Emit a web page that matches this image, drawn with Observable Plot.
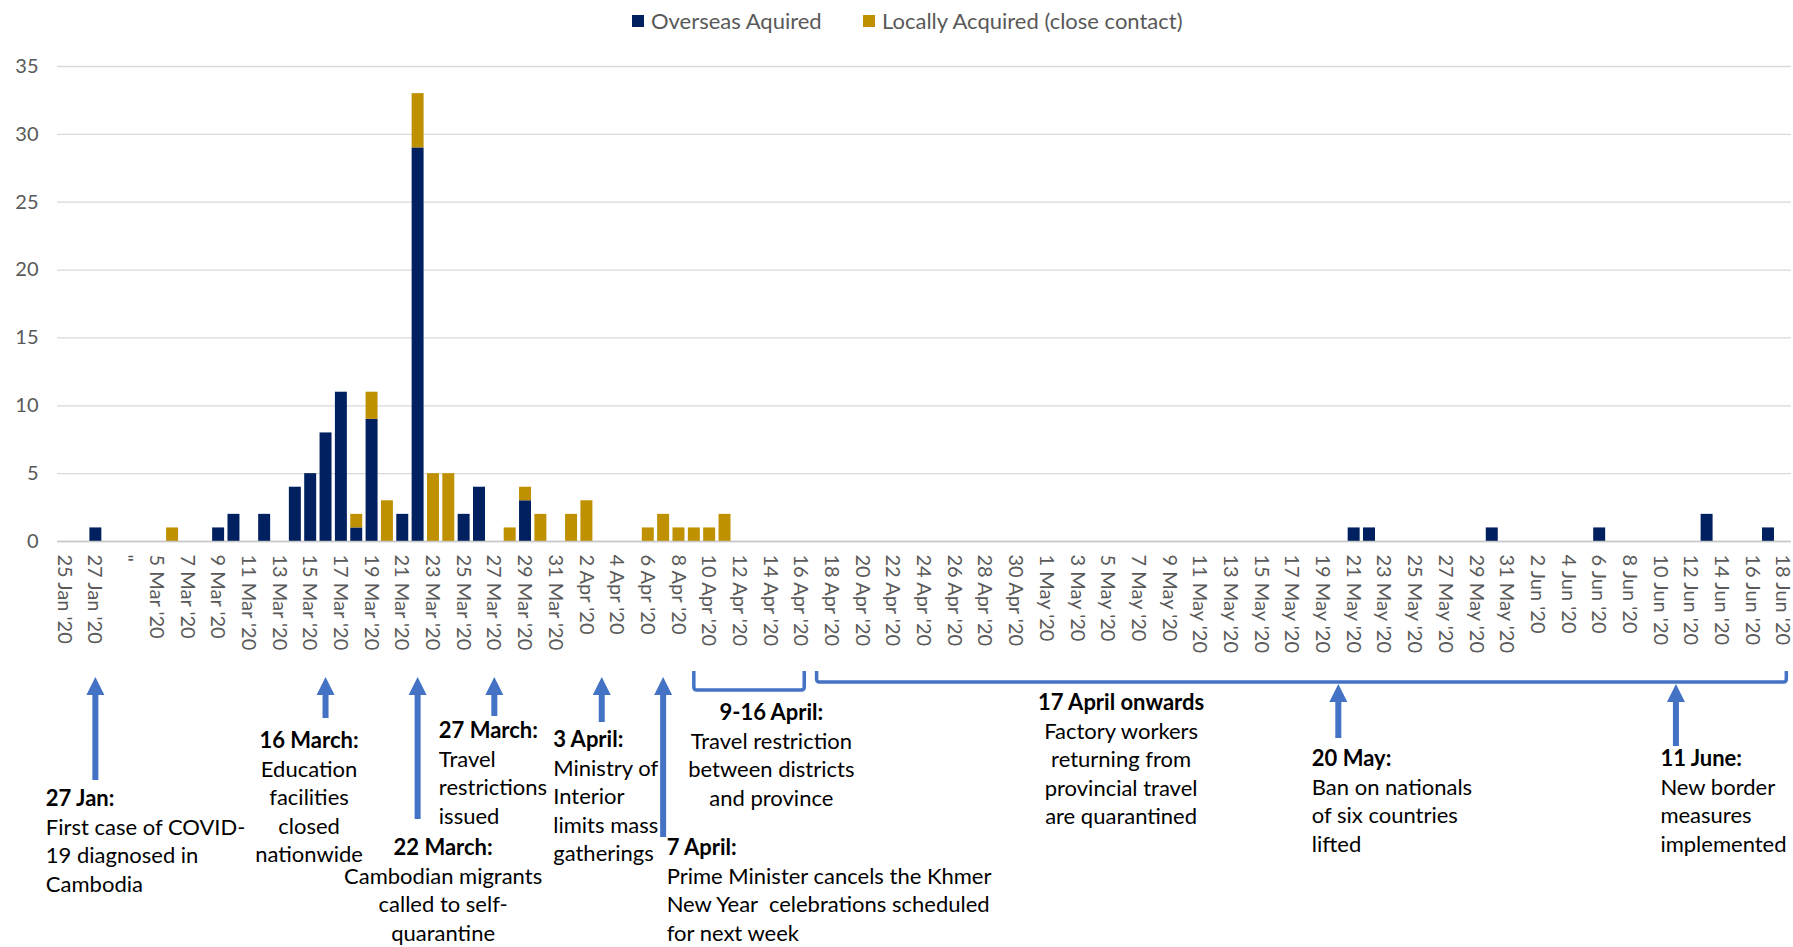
<!DOCTYPE html>
<html>
<head>
<meta charset="utf-8">
<script src="https://cdn.jsdelivr.net/npm/d3@7"></script>
<script src="https://cdn.jsdelivr.net/npm/@observablehq/plot@0.6"></script>
<style>
  body { margin: 0; background: #fff; font-family: Lato, "Open Sans", sans-serif; }
  #legend { position: relative; height: 42px; width: 1793px; color: #595959; font-size: 22px; }
  .item { position: absolute; top: 7px; display: flex; align-items: center; white-space: nowrap; }
  .sw { width: 12px; height: 12px; margin-right: 7px; display: inline-block; }
  #chart svg { display: block; overflow: visible; }
</style>
</head>
<body>
<div id="legend"></div>
<div id="chart"></div>
<script>
// ---- categories (one per bar slot) ----
const categories = [
  "25 Jan '20","26 Jan '20","27 Jan '20","28 Jan '20","\"","4 Mar '20",
  "5 Mar '20","6 Mar '20","7 Mar '20","8 Mar '20","9 Mar '20","10 Mar '20","11 Mar '20","12 Mar '20",
  "13 Mar '20","14 Mar '20","15 Mar '20","16 Mar '20","17 Mar '20","18 Mar '20","19 Mar '20","20 Mar '20",
  "21 Mar '20","22 Mar '20","23 Mar '20","24 Mar '20","25 Mar '20","26 Mar '20","27 Mar '20","28 Mar '20",
  "29 Mar '20","30 Mar '20","31 Mar '20",
  "1 Apr '20","2 Apr '20","3 Apr '20","4 Apr '20","5 Apr '20","6 Apr '20","7 Apr '20","8 Apr '20",
  "9 Apr '20","10 Apr '20","11 Apr '20","12 Apr '20","13 Apr '20","14 Apr '20","15 Apr '20","16 Apr '20",
  "17 Apr '20","18 Apr '20","19 Apr '20","20 Apr '20","21 Apr '20","22 Apr '20","23 Apr '20","24 Apr '20",
  "25 Apr '20","26 Apr '20","27 Apr '20","28 Apr '20","29 Apr '20","30 Apr '20","31 Apr '20",
  "1 May '20","2 May '20","3 May '20","4 May '20","5 May '20","6 May '20","7 May '20","8 May '20",
  "9 May '20","10 May '20","11 May '20","12 May '20","13 May '20","14 May '20","15 May '20","16 May '20",
  "17 May '20","18 May '20","19 May '20","20 May '20","21 May '20","22 May '20","23 May '20","24 May '20",
  "25 May '20","26 May '20","27 May '20","28 May '20","29 May '20","30 May '20","31 May '20",
  "1 Jun '20","2 Jun '20","3 Jun '20","4 Jun '20","5 Jun '20","6 Jun '20","7 Jun '20","8 Jun '20",
  "9 Jun '20","10 Jun '20","11 Jun '20","12 Jun '20","13 Jun '20","14 Jun '20","15 Jun '20","16 Jun '20",
  "17 Jun '20","18 Jun '20"
];

// ---- tick labels shown on the axis (every other slot) ----
const tickLabels = [
  "25 Jan '20","27 Jan '20","\"","5 Mar '20","7 Mar '20","9 Mar '20","11 Mar '20","13 Mar '20",
  "15 Mar '20","17 Mar '20","19 Mar '20","21 Mar '20","23 Mar '20","25 Mar '20","27 Mar '20","29 Mar '20",
  "31 Mar '20","2 Apr '20","4 Apr '20","6 Apr '20","8 Apr '20","10 Apr '20","12 Apr '20","14 Apr '20",
  "16 Apr '20","18 Apr '20","20 Apr '20","22 Apr '20","24 Apr '20","26 Apr '20","28 Apr '20","30 Apr '20",
  "1 May '20","3 May '20","5 May '20","7 May '20","9 May '20","11 May '20","13 May '20","15 May '20",
  "17 May '20","19 May '20","21 May '20","23 May '20","25 May '20","27 May '20","29 May '20","31 May '20",
  "2 Jun '20","4 Jun '20","6 Jun '20","8 Jun '20","10 Jun '20","12 Jun '20","14 Jun '20","16 Jun '20",
  "18 Jun '20"
];

// ---- series values (aligned with categories) ----
const overseas = [
  0,0,1,0,0,0,0,0,0,0,
  1,2,0,2,0,4,5,8,11,1,
  9,0,2,29,0,0,2,4,0,0,
  3,0,0,0,0,0,0,0,0,0,
  0,0,0,0,0,0,0,0,0,0,
  0,0,0,0,0,0,0,0,0,0,
  0,0,0,0,0,0,0,0,0,0,
  0,0,0,0,0,0,0,0,0,0,
  0,0,0,0,1,1,0,0,0,0,
  0,0,0,1,0,0,0,0,0,0,
  1,0,0,0,0,0,0,2,0,0,
  0,1,0
];
const local = [
  0,0,0,0,0,0,0,1,0,0,
  0,0,0,0,0,0,0,0,0,1,
  2,3,0,4,5,5,0,0,0,1,
  1,2,0,2,3,0,0,0,1,2,
  1,1,1,2,0,0,0,0,0,0,
  0,0,0,0,0,0,0,0,0,0,
  0,0,0,0,0,0,0,0,0,0,
  0,0,0,0,0,0,0,0,0,0,
  0,0,0,0,0,0,0,0,0,0,
  0,0,0,0,0,0,0,0,0,0,
  0,0,0,0,0,0,0,0,0,0,
  0,0,0
];

const seriesNames = ["Overseas Aquired", "Locally Acquired (close contact)"];
const seriesColors = ["#002060", "#BF9000"];
const yTicks = [0, 5, 10, 15, 20, 25, 30, 35];

// ---- annotations (anchored to categories; offsets in px below the baseline) ----
const annotations = [
  {k: 2,  anchor: "start",  dx: -50, title: "27 Jan:", tdy: 257, body: ["First case of COVID-", "19 diagnosed in", "Cambodia"]},
  {k: 17, anchor: "middle", dx: -17, title: "16 March:", tdy: 199, body: ["Education", "facilities", "closed", "nationwide"]},
  {k: 23, anchor: "middle", dx: 25,  title: "22 March:", tdy: 306, body: ["Cambodian migrants", "called to self-", "quarantine"]},
  {k: 28, anchor: "start",  dx: -56, title: "27 March:", tdy: 189, body: ["Travel", "restrictions", "issued"]},
  {k: 35, anchor: "start",  dx: -49, title: "3 April:", tdy: 198, body: ["Ministry of", "Interior", "limits mass", "gatherings"]},
  {k: 39, anchor: "start",  dx: 3,   title: "7 April:", tdy: 306, body: ["Prime Minister cancels the Khmer", "New Year  celebrations scheduled", "for next week"]},
  {k: 41, anchor: "middle", dx: 77,  title: "9-16 April:", tdy: 171, body: ["Travel restriction", "between districts", "and province"]},
  {k: 49, anchor: "middle", dx: 304, title: "17 April onwards", tdy: 161, body: ["Factory workers", "returning from", "provincial travel", "are quarantined"]},
  {k: 83, anchor: "start",  dx: -27, title: "20 May:", tdy: 217, body: ["Ban on nationals", "of six countries", "lifted"]},
  {k: 105, anchor: "start", dx: -16, title: "11 June:", tdy: 217, body: ["New border", "measures", "implemented"]}
];
const arrows = [
  {k: 2, tip: 136, base: 239}, {k: 17, tip: 136, base: 177}, {k: 23, tip: 136, base: 278},
  {k: 28, tip: 136, base: 175}, {k: 35, tip: 136, base: 181}, {k: 39, tip: 136, base: 296},
  {k: 83, tip: 143, base: 197}, {k: 105, tip: 143, base: 205}
];
const brackets = [
  {k1: 41, k2: 48, top: 130, bottom: 149},
  {k1: 49, k2: 112, top: 130, bottom: 141}
];
const annBlue = "#4472C4";

// ---- legend ----
const legend = document.getElementById("legend");
const legendX = [632, 863];
seriesNames.forEach((name, i) => {
  const it = document.createElement("div");
  it.className = "item";
  it.style.left = legendX[i] + "px";
  it.innerHTML = `<span class="sw" style="background:${seriesColors[i]}"></span><span>${name}</span>`;
  legend.appendChild(it);
});

// ---- data table ----
const rows = [];
seriesNames.forEach((s, si) => {
  const vals = si === 0 ? overseas : local;
  categories.forEach((c, i) => { if (vals[i] > 0) rows.push({cat: c, series: s, value: vals[i]}); });
});

// ---- annotation shapes (arrows + brackets) ----
function shapes(index, scales) {
  const x = scales.x, y0 = scales.y(0);
  const bw = x.bandwidth ? x.bandwidth() : 0;
  const cx = k => x(categories[k]) + bw / 2;
  const g = d3.create("svg:g");
  for (const a of arrows) {
    const X = cx(a.k), headH = 18, headW = 9;
    g.append("line").attr("x1", X).attr("x2", X)
      .attr("y1", y0 + a.tip + headH - 1).attr("y2", y0 + a.base)
      .attr("stroke", annBlue).attr("stroke-width", 6);
    g.append("path")
      .attr("d", `M${X},${y0 + a.tip}L${X + headW},${y0 + a.tip + headH}L${X - headW},${y0 + a.tip + headH}Z`)
      .attr("fill", annBlue);
  }
  for (const b of brackets) {
    const X1 = cx(b.k1), X2 = cx(b.k2) + 3;
    g.append("path")
      .attr("d", `M${X1},${y0 + b.top}V${y0 + b.bottom - 3}Q${X1},${y0 + b.bottom} ${X1 + 3},${y0 + b.bottom}H${X2 - 3}Q${X2},${y0 + b.bottom} ${X2},${y0 + b.bottom - 3}V${y0 + b.top}`)
      .attr("fill", "none").attr("stroke", annBlue).attr("stroke-width", 3.5);
  }
  return g.node();
}

const annFont = 22, annLine = 28.4;
const textMarks = annotations.flatMap(a => [
  Plot.text([a], {x: d => categories[d.k], y: 0, text: d => d.title, dx: a.dx, dy: a.tdy,
    textAnchor: a.anchor, fontWeight: "bold", fontSize: annFont, fill: "#000", lineAnchor: "middle"}),
  Plot.text([a], {x: d => categories[d.k], y: 0, text: d => d.body.join("\n"), dx: a.dx, dy: a.tdy + annLine - 12,
    textAnchor: a.anchor, fontSize: annFont, fill: "#000", lineAnchor: "top", lineHeight: annLine / annFont})
]);

const tickSet = new Set(tickLabels);

const chart = Plot.plot({
  width: 1793,
  height: 905,
  marginLeft: 57,
  marginRight: 2,
  marginTop: 24,
  marginBottom: 406,
  style: {fontFamily: "Lato, 'Open Sans', sans-serif", color: "#595959", background: "#fff", overflow: "visible"},
  x: {type: "band", domain: categories, paddingInner: 0.22, paddingOuter: 0.11, axis: null},
  y: {domain: [0, 35], axis: null},
  color: {domain: seriesNames, range: seriesColors},
  marks: [
    Plot.gridY(yTicks, {stroke: "#d9d9d9", strokeOpacity: 1, strokeWidth: 1.3}),
    Plot.barY(rows, {x: "cat", y: "value", fill: "series", order: seriesNames}),
    Plot.ruleY([0], {stroke: "#c8c8c8", strokeWidth: 1.6}),
    Plot.axisY(yTicks, {tickSize: 0, tickPadding: 19, fontSize: 20, fill: "#595959", label: null}),
    Plot.axisX(categories.filter(c => tickSet.has(c)), {tickSize: 0, tickPadding: 13, tickRotate: 90, fontSize: 20, dx: -1, fill: "#595959", label: null}),
    shapes,
    ...textMarks
  ]
});
document.getElementById("chart").appendChild(chart);
</script>
</body>
</html>
